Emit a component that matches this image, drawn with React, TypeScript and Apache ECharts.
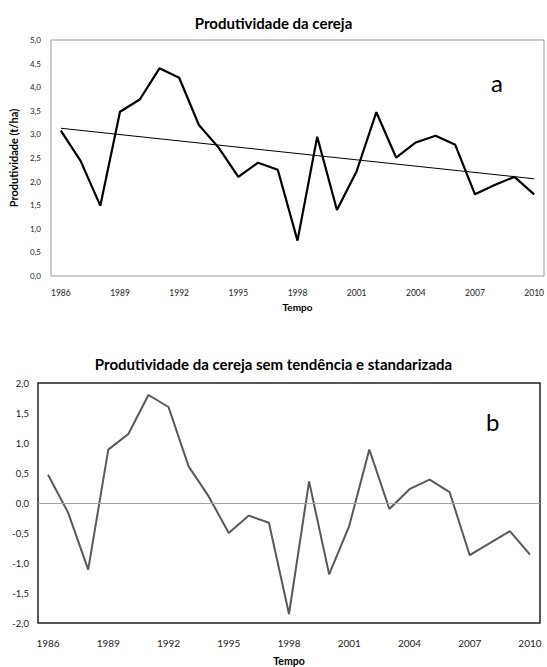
import React, { useEffect, useRef } from "react";
import * as echarts from "echarts";

const years = [
  "1986","1987","1988","1989","1990","1991","1992","1993","1994","1995","1996","1997","1998",
  "1999","2000","2001","2002","2003","2004","2005","2006","2007","2008","2009","2010",
];
const productivity = [
  3.08, 2.44, 1.49, 3.48, 3.74, 4.4, 4.2, 3.2, 2.72, 2.1, 2.4, 2.25, 0.75,
  2.95, 1.4, 2.22, 3.47, 2.51, 2.83, 2.97, 2.78, 1.73, 1.93, 2.1, 1.73,
];
const trendStart = 3.13;
const trendEnd = 2.06;
const standardized = [
  0.47, -0.16, -1.11, 0.89, 1.15, 1.8, 1.6, 0.61, 0.11, -0.5, -0.21, -0.33, -1.85,
  0.36, -1.19, -0.38, 0.89, -0.1, 0.23, 0.39, 0.18, -0.87, -0.67, -0.47, -0.86,
];
const titleA = "Produtividade da cereja";
const titleB = "Produtividade da cereja sem tendência e standarizada";
const yNameA = "Produtividade (t/ha)";
const xName = "Tempo";

const FONT = "Lato, 'Open Sans', sans-serif";

export default function App() {
  const ref = useRef<HTMLDivElement>(null);
  useEffect(() => {
    document.body.style.margin = "0";
    if (!ref.current) return;
    const chart = echarts.init(ref.current, undefined, { renderer: "svg" });
    const trend = years.map((_, i) => (i === 0 ? trendStart : i === years.length - 1 ? trendEnd : null));
    const fmt = (v: number) => v.toFixed(1).replace(".", ",");
    const catAxis = (gridIndex: number, fontSize: number, margin: number) => ({
      type: "category",
      gridIndex,
      data: years,
      boundaryGap: true,
      axisTick: { show: false },
      axisLine: { show: false },
      axisLabel: { interval: 2, fontSize, color: "#222", fontFamily: FONT, margin },
    });
    chart.setOption({
      animation: false,
      textStyle: { fontFamily: FONT },
      title: [
        {
          text: titleA, left: "center", top: 10,
          textStyle: { fontSize: 15, fontWeight: "bold", color: "#000", fontFamily: FONT },
        },
        {
          text: titleB, left: "center", top: 351,
          textStyle: { fontSize: 15, fontWeight: "bold", color: "#000", fontFamily: FONT },
        },
      ],
      grid: [
        { left: 43, top: 40, right: 3, height: 236, show: true, borderColor: "#999", borderWidth: 1, containLabel: false },
        { left: 38, top: 383, right: 7, height: 240, show: true, borderColor: "#222", borderWidth: 1.5, containLabel: false },
      ],
      xAxis: [
        { ...catAxis(0, 8.5, 12), name: xName, nameLocation: "middle", nameGap: 26,
          nameTextStyle: { fontSize: 10, fontWeight: "bold", color: "#000", fontFamily: FONT } },
        { ...catAxis(1, 10, 15), name: xName, nameLocation: "middle", nameGap: 32,
          nameTextStyle: { fontSize: 10.5, fontWeight: "bold", color: "#000", fontFamily: FONT } },
      ],
      yAxis: [
        {
          type: "value", gridIndex: 0, min: 0, max: 5, interval: 0.5,
          axisLine: { show: false }, axisTick: { show: false }, splitLine: { show: false },
          axisLabel: { fontSize: 8, color: "#222", fontFamily: FONT, formatter: fmt, margin: 10 },
          name: yNameA, nameLocation: "middle", nameGap: 27,
          nameTextStyle: { fontSize: 11, fontWeight: "bold", color: "#000", fontFamily: FONT },
        },
        {
          type: "value", gridIndex: 1, min: -2, max: 2, interval: 0.5,
          axisLine: { show: false }, axisTick: { show: false }, splitLine: { show: false },
          axisLabel: { fontSize: 9.5, color: "#222", fontFamily: FONT, formatter: fmt, margin: 9 },
        },
      ],
      graphic: [
        { type: "text", left: 491, top: 70, style: { text: "a", fontSize: 24, fill: "#000", fontFamily: FONT } },
        { type: "text", left: 486, top: 409, style: { text: "b", fontSize: 24, fill: "#000", fontFamily: FONT } },
      ],
      series: [
        {
          type: "line", xAxisIndex: 0, yAxisIndex: 0, data: productivity,
          showSymbol: false, symbol: "none", lineStyle: { color: "#000", width: 2.2 },
        },
        {
          type: "line", xAxisIndex: 0, yAxisIndex: 0, data: trend, connectNulls: true,
          showSymbol: false, symbol: "none", lineStyle: { color: "#000", width: 1 },
        },
        {
          type: "line", xAxisIndex: 1, yAxisIndex: 1, data: standardized,
          showSymbol: false, symbol: "none", lineStyle: { color: "#595959", width: 2 },
          markLine: {
            silent: true, symbol: "none", label: { show: false },
            lineStyle: { color: "#a6a6a6", width: 1, type: "solid" },
            data: [{ yAxis: 0 }],
          },
        },
      ],
    });
    return () => chart.dispose();
  }, []);
  return <div ref={ref} style={{ width: 547, height: 667 }} />;
}
